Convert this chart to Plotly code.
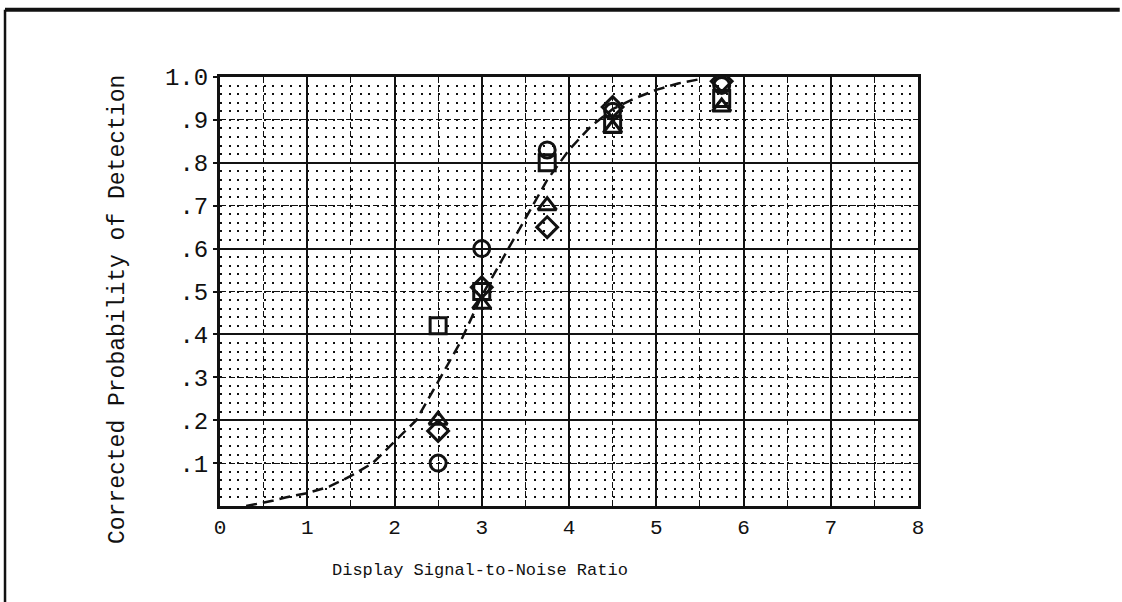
import plotly.graph_objects as go

# ---- data ----
snr_levels = [2.5, 3.0, 3.75, 4.5, 5.75]
circle_p = [0.10, 0.60, 0.83, 0.92, 0.98]
square_p = [0.42, 0.50, 0.80, 0.89, 0.95]
triangle_p = [0.20, 0.47, 0.70, 0.88, 0.93]
diamond_p = [0.175, 0.51, 0.65, 0.93, 0.99]

curve_x = [0.3, 0.6, 0.75, 1.0, 1.25, 1.5, 1.75, 2.0, 2.25, 2.5, 2.75, 3.0,
           3.25, 3.5, 3.75, 4.0, 4.25, 4.5, 4.75, 5.0, 5.25, 5.5]
curve_y = [0.0, 0.012, 0.02, 0.03, 0.045, 0.07, 0.10, 0.15, 0.20, 0.29, 0.38, 0.49,
           0.58, 0.67, 0.76, 0.83, 0.885, 0.925, 0.95, 0.97, 0.985, 0.995]

x_ticks = [0, 1, 2, 3, 4, 5, 6, 7, 8]
y_tickvals = [0.1, 0.2, 0.3, 0.4, 0.5, 0.6, 0.7, 0.8, 0.9, 1.0]
y_ticktext = [".1", ".2", ".3", ".4", ".5", ".6", ".7", ".8", ".9", "1.0"]

x_title = "Display Signal-to-Noise Ratio"
y_title = "Corrected Probability of Detection"

FONT = "Liberation Mono"
INK = "#111111"

fig = go.Figure()

fig.add_trace(go.Scatter(x=curve_x, y=curve_y, mode="lines",
                         line=dict(color=INK, width=2.5, dash="11px,6px"),
                         hoverinfo="skip", showlegend=False))

for vals, sym in [(circle_p, "circle-open"), (square_p, "square-open"),
                  (triangle_p, "triangle-up-open"), (diamond_p, "diamond-open")]:
    fig.add_trace(go.Scatter(x=snr_levels, y=vals, mode="markers",
                             marker=dict(symbol=sym, size=16, color=INK,
                                         line=dict(width=3, color=INK)),
                             showlegend=False))

# invisible trace to carry the overlay axis with tick labels
fig.add_trace(go.Scatter(x=[None], y=[None], yaxis="y2", showlegend=False))

fig.update_layout(
    width=1122, height=602,
    margin=dict(l=220, r=204, t=77, b=96),
    paper_bgcolor="white", plot_bgcolor="white",
    font=dict(family=FONT, color=INK),
    xaxis=dict(
        range=[0, 8], tickvals=x_ticks, ticktext=[str(v) for v in x_ticks],
        showgrid=True, gridcolor=INK, gridwidth=1.5,
        minor=dict(dtick=0.5, tick0=0, showgrid=True, gridcolor=INK,
                   gridwidth=1, griddash="6px,3px"),
        showline=True, linecolor=INK, linewidth=3, mirror=True,
        ticks="", tickfont=dict(family=FONT, size=21, color=INK),
        zeroline=False, fixedrange=True,
    ),
    yaxis=dict(
        range=[0, 1], tickmode="linear", tick0=0, dtick=0.2,
        showticklabels=False, ticks="",
        showgrid=True, gridcolor=INK, gridwidth=1.5,
        minor=dict(dtick=0.02, tick0=0, showgrid=True, gridcolor=INK,
                   gridwidth=2, griddash="2px,6.725px"),
        showline=True, linecolor=INK, linewidth=3, mirror=True,
        zeroline=False, fixedrange=True,
    ),
    yaxis2=dict(
        overlaying="y", anchor="x", side="left", range=[0, 1],
        tickvals=y_tickvals, ticktext=y_ticktext,
        ticks="outside", ticklen=6, tickwidth=2, tickcolor=INK,
        tickfont=dict(family=FONT, size=24, color=INK),
        showgrid=True, gridcolor=INK, gridwidth=1, griddash="6px,3px",
        showline=False, zeroline=False, fixedrange=True,
    ),
    annotations=[
        dict(text=x_title, xref="paper", yref="paper", x=0.372, y=-0.150,
             xanchor="center", yanchor="middle", showarrow=False,
             font=dict(family=FONT, size=17, color=INK)),
        dict(text=y_title, xref="paper", yref="paper", x=-0.146, y=0.457,
             xanchor="center", yanchor="middle", showarrow=False, textangle=-90,
             font=dict(family=FONT, size=23, color=INK)),
    ],
    shapes=[
        dict(type="line", xref="paper", yref="paper", x0=-0.308, x1=1.289,
             y0=1.157, y1=1.157, line=dict(color=INK, width=4)),
        dict(type="line", xref="paper", yref="paper", x0=-0.308, x1=-0.308,
             y0=1.157, y1=-0.23, line=dict(color=INK, width=2.5)),
    ],
)

fig.write_html("out.html")
